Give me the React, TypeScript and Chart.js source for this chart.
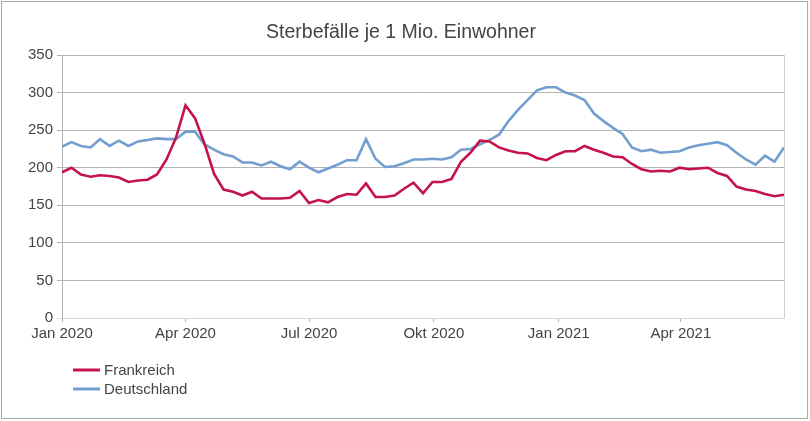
import React, { useEffect, useRef } from "react";
import { Chart, registerables } from "chart.js";

Chart.register(...registerables);

const chartTitle = "Sterbefälle je 1 Mio. Einwohner";
const seriesNames = ["Frankreich", "Deutschland"];
const seriesColors = ["#c4124b", "#729fcf"];

// tick positions in days since 1 Jan 2020 and their labels
const tickDays = [0, 91, 182, 274, 366, 456];
const tickLabels = ["Jan 2020", "Apr 2020", "Jul 2020", "Okt 2020", "Jan 2021", "Apr 2021"];
const daysPerWeek = 7;

const frankreich = [
  194, 200, 191, 188, 190, 189, 187, 181, 183, 184, 191, 211, 240, 283, 266, 232,
  192, 171, 168, 163, 168, 159, 159, 159, 160, 169, 153, 157, 154, 161, 165, 164,
  179, 161, 161, 163, 172, 180, 166, 181, 181, 185, 208, 220, 236, 235, 227, 223,
  220, 219, 213, 210, 217, 222, 222, 229, 224, 220, 215, 214, 205, 198, 195, 196,
  195, 200, 198, 199, 200, 193, 189, 175, 171, 169, 165, 162, 164,
];

const deutschland = [
  228, 234, 229, 227, 238, 229, 236, 229, 235, 237, 239, 238, 238, 248, 248, 231,
  224, 218, 215, 207, 207, 203, 208, 202, 198, 208, 200, 194, 199, 204, 210, 210,
  238, 212, 201, 202, 206, 211, 211, 212, 211, 214, 224, 225, 231, 237, 244, 262,
  277, 290, 303, 307, 307, 300, 296, 290, 272, 262, 253, 245, 227, 222, 224, 220,
  221, 222, 227, 230, 232, 234, 230, 220, 211, 204, 216, 208, 227,
];

const yMin = 0;
const yMax = 350;
const yStep = 50;

const FONT = '"Liberation Sans", Arial, sans-serif';

const titlePlugin = {
  id: "offsetTitle",
  afterDraw(chart: any) {
    const ctx = chart.ctx;
    ctx.save();
    ctx.fillStyle = "#444";
    ctx.font = "19.5px " + FONT;
    ctx.textAlign = "center";
    ctx.textBaseline = "middle";
    ctx.fillText(chartTitle, 401, 33);
    ctx.restore();
  },
};

const stackedLegend = {
  id: "stackedLegend",
  afterDraw(chart: any) {
    const ctx = chart.ctx;
    const left = chart.chartArea.left + 11;
    let y = chart.chartArea.bottom + 52;
    chart.data.datasets.forEach((ds: any) => {
      ctx.save();
      ctx.strokeStyle = ds.borderColor;
      ctx.lineWidth = 3;
      ctx.beginPath();
      ctx.moveTo(left, y);
      ctx.lineTo(left + 27, y);
      ctx.stroke();
      ctx.fillStyle = "#444";
      ctx.font = "15px " + FONT;
      ctx.textBaseline = "middle";
      ctx.textAlign = "left";
      ctx.fillText(ds.label, left + 31, y + 1);
      ctx.restore();
      y += 19;
    });
  },
};

const rightBorder = {
  id: "rightBorder",
  beforeDatasetsDraw(chart: any) {
    const { ctx, chartArea } = chart;
    ctx.save();
    ctx.strokeStyle = "#cfcfcf";
    ctx.lineWidth = 1;
    ctx.beginPath();
    ctx.moveTo(chartArea.right + 0.5, chartArea.top);
    ctx.lineTo(chartArea.right + 0.5, chartArea.bottom);
    ctx.stroke();
    ctx.restore();
  },
};

export default function App() {
  const canvasRef = useRef<HTMLCanvasElement | null>(null);

  useEffect(() => {
    if (!canvasRef.current) return;
    const toPoints = (arr: number[]) => arr.map((v, i) => ({ x: i * daysPerWeek, y: v }));
    const chart = new Chart(canvasRef.current, {
      type: "line",
      data: {
        datasets: [
          {
            label: seriesNames[0],
            data: toPoints(frankreich),
            borderColor: seriesColors[0],
            backgroundColor: seriesColors[0],
            borderWidth: 2.6,
            pointRadius: 0,
            tension: 0,
          },
          {
            label: seriesNames[1],
            data: toPoints(deutschland),
            borderColor: seriesColors[1],
            backgroundColor: seriesColors[1],
            borderWidth: 2.6,
            pointRadius: 0,
            tension: 0,
          },
        ],
      },
      options: {
        animation: false,
        responsive: false,
        devicePixelRatio: 1,
        layout: { padding: { left: 0, right: 26, top: 55, bottom: 0 } },
        plugins: {
          legend: { display: false },
          tooltip: { enabled: false },
          title: { display: false },
        },
        scales: {
          x: {
            type: "linear",
            min: 0,
            max: (frankreich.length - 1) * daysPerWeek,
            afterBuildTicks: (scale: any) => {
              scale.ticks = tickDays.map((v) => ({ value: v }));
            },
            afterFit: (scale: any) => {
              scale.height = 103;
            },
            grid: {
              drawOnChartArea: false,
              drawTicks: true,
              tickLength: 4,
              color: "#b3b3b3",
            },
            border: { display: true, color: "#d6d6d6" },
            ticks: {
              autoSkip: false,
              maxRotation: 0,
              padding: 3,
              color: "#444",
              font: { family: FONT, size: 15 },
              callback: (_v: any, i: number) => tickLabels[i],
            },
          },
          y: {
            min: yMin,
            max: yMax,
            afterFit: (scale: any) => {
              scale.width = 62;
            },
            grid: {
              color: (c: any) => (c.tick && c.tick.value === 0 ? "#dcdcdc" : "#b3b3b3"),
              tickLength: 5,
              drawTicks: true,
            },
            border: { display: true, color: "#b3b3b3" },
            ticks: {
              stepSize: yStep,
              padding: 4,
              color: "#444",
              font: { family: FONT, size: 15 },
            },
          },
        },
      },
      plugins: [titlePlugin, stackedLegend, rightBorder],
    });
    return () => chart.destroy();
  }, []);

  return (
    <div
      style={{
        position: "fixed",
        left: 0,
        top: 0,
        width: 810,
        height: 421,
        background: "#fff",
        overflow: "hidden",
      }}
    >
      <canvas ref={canvasRef} width={810} height={421} style={{ display: "block" }} />
      <div
        style={{
          position: "absolute",
          left: 1,
          top: 1,
          width: 805,
          height: 416,
          border: "1px solid #a8a8a8",
          pointerEvents: "none",
        }}
      />
    </div>
  );
}
